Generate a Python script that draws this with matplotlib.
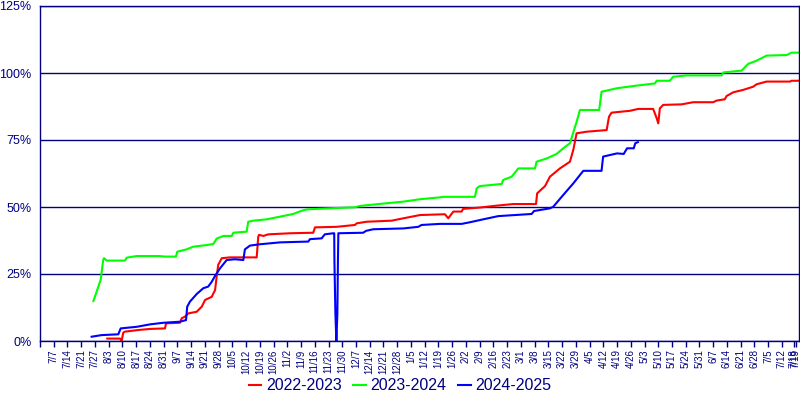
import numpy as np
import matplotlib
matplotlib.use("Agg")
import matplotlib.pyplot as plt

plt.rcParams["font.family"] = ["Liberation Sans", "DejaVu Sans"]

NAVY = "#000080"

# x values are days counted from 6/30, y values are percent
red_day = [34.3, 40.8, 41.6, 42.4, 43.3, 50.1, 56.0, 63.7, 64.2, 71.3, 72.2, 73.9, 75.5, 79.8,
           82.4, 84.1, 87.5, 89.2, 90.0, 90.8, 92.6, 96.8, 110.4, 111.2, 111.6, 113.8, 116.3,
           127.4, 139.2, 140.1, 151.1, 160.5, 161.3, 166.4, 179.2, 182.5, 193.6, 206.3, 208.0,
           210.6, 214.8, 215.6, 224.1, 232.6, 241.1, 252.7, 253.3, 257.3, 259.8, 264.9, 270.0,
           271.7, 273.4, 278.5, 288.7, 289.9, 291.2, 300.6, 304.8, 312.4, 314.2, 315.0, 315.8,
           317.5, 326.9, 332.8, 343.0, 344.7, 348.9, 349.8, 353.2, 358.3, 363.4, 365.1, 370.2,
           382.1, 382.9, 386.3]
red_pct = [0.9, 0.9, 0.0, 3.1, 3.5, 4.1, 4.5, 4.7, 6.6, 6.8, 8.5, 9.1, 10.3, 10.9,
           12.8, 15.3, 16.5, 19.0, 24.0, 28.4, 30.9, 31.2, 31.2, 38.9, 39.6, 39.2, 39.8,
           40.2, 40.4, 42.4, 42.6, 43.3, 43.9, 44.5, 44.9, 45.4, 47.0, 47.3, 45.8,
           48.3, 48.3, 49.3, 49.8, 50.5, 51.1, 51.1, 55.1, 57.8, 61.3, 64.4, 66.9,
           71.3, 77.5, 78.1, 78.7, 83.7, 85.2, 85.9, 86.6, 86.6, 83.1, 81.2, 86.8,
           88.1, 88.3, 89.1, 89.1, 89.7, 90.2, 91.4, 92.8, 93.7, 94.9, 95.8, 96.8,
           96.8, 97.1, 97.1]

green_day = [27.2, 30.9, 32.2, 32.6, 34.0, 43.3, 44.2, 49.3, 60.6, 63.7, 69.3, 69.9, 74.7, 78.1,
             84.9, 88.3, 90.0, 93.4, 97.7, 98.5, 105.3, 106.1, 108.7, 115.5, 122.3, 129.0,
             133.3, 135.9, 144.3, 160.5, 163.0, 176.6, 185.1, 193.6, 203.8, 205.4, 221.6,
             222.5, 224.1, 235.2, 236.0, 240.3, 243.7, 252.2, 253.0, 258.1, 263.2, 266.6,
             270.0, 273.4, 275.1, 284.9, 286.1, 293.8, 304.0, 313.3, 314.2, 320.9, 322.6,
             329.4, 347.3, 348.1, 357.5, 360.8, 365.1, 370.2, 380.4, 382.9, 386.3]
green_pct = [14.9, 22.8, 30.2, 30.9, 30.0, 30.0, 31.1, 31.7, 31.7, 31.5, 31.5, 33.3, 34.2, 35.2,
             35.8, 36.2, 38.2, 39.2, 39.2, 40.4, 40.8, 44.5, 44.9, 45.4, 46.4, 47.4,
             48.6, 49.1, 49.4, 49.9, 50.4, 51.4, 52.0, 52.9, 53.6, 53.8, 53.8,
             57.0, 57.8, 58.6, 60.1, 61.3, 64.4, 64.4, 66.9, 68.1, 69.8, 71.9,
             73.8, 81.8, 86.2, 86.2, 93.0, 94.3, 95.3, 96.1, 97.1, 97.1, 98.6,
             99.1, 99.1, 100.2, 100.9, 103.4, 104.6, 106.5, 106.7, 107.6, 107.6]

blue_day = [26.3, 31.4, 39.9, 41.1, 49.3, 56.0, 62.8, 71.3, 74.4, 75.0, 76.4, 79.8, 83.2, 85.7,
            87.5, 89.2, 91.7, 95.1, 99.3, 103.6, 104.4, 107.0, 112.1, 122.3, 136.7, 137.5,
            143.5, 145.1, 149.4, 149.9, 150.0, 150.5, 151.0, 151.5, 151.8, 152.0, 164.7,
            166.1, 169.8, 185.1, 192.7, 194.4, 203.8, 214.8, 219.0, 225.8, 233.5, 242.0,
            250.5, 251.7, 259.8, 261.5, 266.6, 271.7, 276.8, 286.1, 286.9, 290.4, 294.0,
            297.4, 299.1, 302.5, 303.3, 304.6]
blue_pct = [1.6, 2.2, 2.5, 4.7, 5.3, 6.2, 6.8, 7.2, 7.8, 12.8, 14.7, 17.5, 19.7, 20.3,
            22.1, 24.3, 27.1, 30.2, 30.5, 30.2, 34.2, 35.6, 36.1, 36.8, 37.1, 38.0,
            38.3, 39.8, 40.2, 40.2, 30.2, 10.3, 0.0, 10.3, 30.2, 40.2, 40.4,
            41.1, 41.7, 42.0, 42.6, 43.3, 43.7, 43.7, 44.3, 45.4, 46.6, 47.0,
            47.4, 48.5, 49.5, 50.1, 54.5, 58.8, 63.5, 63.5, 68.8, 69.4, 70.0,
            69.8, 71.9, 71.9, 73.8, 74.2]

tick_labels = ["", "7/7", "7/14", "7/21", "7/27", "8/3", "8/10", "8/17", "8/24", "8/31", "9/7",
               "9/14", "9/21", "9/28", "10/5", "10/12", "10/19", "10/26", "11/2", "11/9",
               "11/16", "11/23", "11/30", "12/7", "12/14", "12/21", "12/28", "1/5", "1/12",
               "1/19", "1/26", "2/2", "2/9", "2/16", "2/23", "3/1", "3/8", "3/15", "3/22",
               "3/29", "4/5", "4/12", "4/19", "4/26", "5/3", "5/10", "5/17", "5/24", "5/31",
               "6/7", "6/14", "6/21", "6/28", "7/5", "7/12", "7/18", "7/19"]
tick_days = list(range(0, 379, 7)) + [384, 385]

fig = plt.figure(figsize=(8, 4), dpi=100)
ax = fig.add_axes([40 / 800, 1 - 341 / 400, 759 / 800, 335 / 400])

ax.plot(red_day, red_pct, color="#ff0000", lw=1.5, label="2022-2023")
ax.plot(green_day, green_pct, color="#00ff00", lw=1.5, label="2023-2024")
ax.plot(blue_day, blue_pct, color="#0000ff", lw=1.5, label="2024-2025")

ax.set_xlim(0, 386.7)
ax.set_ylim(0, 125)
ax.set_yticks([0, 25, 50, 75, 100, 125])
ax.set_yticklabels(["0%", "25%", "50%", "75%", "100%", "125%"])
ax.set_xticks(tick_days)
ax.set_xticklabels(tick_labels, rotation=90)

ax.set_axisbelow(True)
ax.yaxis.grid(True, color=NAVY, lw=1.0)
for s in ax.spines.values():
    s.set_color(NAVY)
    s.set_linewidth(1.0)
ax.tick_params(axis="y", length=0, pad=6, labelsize=9, labelcolor=NAVY)
ax.tick_params(axis="x", length=4, width=1, color=NAVY, pad=2, labelsize=7, labelcolor=NAVY)

leg = fig.legend(loc="center", bbox_to_anchor=(0.5, 1 - 386 / 400), ncol=3, frameon=False,
                 fontsize=11.5, handlelength=0.8, handletextpad=0.3, columnspacing=0.7)
for t in leg.get_texts():
    t.set_color(NAVY)

fig.savefig("out.png", dpi=100)
